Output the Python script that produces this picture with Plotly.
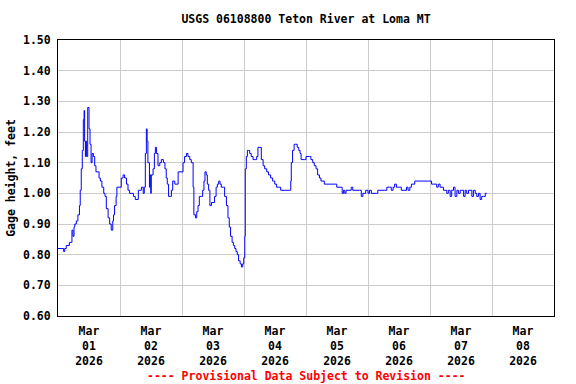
import pandas as pd
import plotly.graph_objects as go

start_date = "2026-03-01"
hours = [0.0, 1.5, 2.2, 2.6, 3.2, 4.4, 5.2, 5.4, 5.8, 6.2, 6.5, 7.1, 7.7, 8.3, 8.6, 9.0, 9.4, 9.8,
         10.1, 10.3, 10.6, 10.8, 11.1, 11.5, 12.0, 12.4, 12.8, 13.2, 13.7, 14.2, 14.7, 15.5, 15.9,
         16.4, 17.0, 17.7, 18.2, 18.7, 19.4, 20.0, 20.6, 21.2, 21.5, 21.9, 22.5, 22.8, 24.0, 24.5,
         25.2, 25.8, 26.5, 27.1, 27.7, 28.6, 29.2, 29.9, 30.6, 31.1, 31.7, 32.3, 33.0, 33.4, 33.8,
         34.2, 34.5, 34.8, 35.4, 35.6, 35.9, 36.1, 36.8, 37.3, 37.7, 38.1, 38.7, 39.4, 40.0, 40.8,
         41.4, 41.9, 42.3, 42.8, 43.5, 43.9, 44.4, 45.2, 45.7, 46.5, 48.0, 48.4, 49.0, 49.7, 50.3,
         51.0, 51.6, 52.3, 52.6, 53.2, 53.7, 54.2, 54.7, 55.5, 56.0, 56.5, 56.9, 57.4, 57.8, 58.3,
         58.8, 59.4, 60.0, 60.6, 61.2, 61.7, 62.2, 62.7, 63.2, 64.0, 64.5, 65.2, 65.8, 66.3, 66.8,
         67.4, 67.9, 68.4, 68.9, 69.4, 69.9, 70.5, 71.0, 71.5, 71.9, 72.3, 72.5, 72.9, 73.3, 73.8,
         74.2, 74.8, 75.5, 76.4, 76.9, 77.4, 78.1, 78.7, 79.4, 80.0, 80.8, 81.5, 82.3, 83.1, 83.9,
         84.6, 85.4, 86.2, 89.5, 90.1, 90.3, 90.8, 91.4, 92.0, 92.6, 93.2, 93.7, 94.1, 95.4, 96.0,
         97.3, 97.9, 98.6, 99.2, 99.9, 100.5, 101.2, 101.8, 103.1, 107.4, 107.9, 109.6, 110.0,
         110.5, 111.0, 111.5, 113.5, 114.1, 116.7, 117.4, 118.0, 119.1, 120.0, 120.6, 121.3, 123.2,
         123.8, 126.4, 127.3, 128.4, 129.0, 129.7, 130.3, 131.0, 132.3, 132.9, 134.9, 135.5, 136.2,
         136.8, 138.1, 143.3, 144.6, 145.3, 146.6, 147.2, 147.9, 149.2, 150.5, 151.1, 151.8, 152.4,
         153.1, 153.7, 154.4, 155.0, 155.7, 156.3, 157.0, 157.6, 158.2, 158.9, 159.5, 160.2, 160.8,
         161.5, 162.1, 162.8, 163.4, 164.0, 164.7, 165.4, 166.0]
gage_ft = [0.82, 0.82, 0.81, 0.82, 0.83, 0.84, 0.84, 0.88, 0.86, 0.89, 0.90, 0.91, 0.93, 0.96, 1.01,
           1.08, 1.14, 1.24, 1.27, 1.17, 1.12, 1.17, 1.12, 1.28, 1.21, 1.16, 1.10, 1.13, 1.12, 1.09,
           1.07, 1.07, 1.05, 1.04, 1.02, 1.00, 0.99, 0.95, 0.92, 0.90, 0.88, 0.91, 0.93, 0.96, 0.99,
           1.02, 1.02, 1.05, 1.06, 1.05, 1.03, 1.01, 1.00, 1.00, 0.99, 0.98, 0.98, 1.01, 1.01, 1.02,
           1.00, 1.02, 1.13, 1.21, 1.17, 1.10, 1.02, 1.06, 1.00, 1.06, 1.08, 1.13, 1.15, 1.13, 1.09,
           1.10, 1.11, 1.10, 1.08, 1.05, 1.03, 0.99, 0.99, 1.01, 1.04, 1.03, 1.03, 1.07, 1.07, 1.10,
           1.12, 1.13, 1.12, 1.11, 1.10, 1.02, 0.93, 0.92, 0.94, 0.96, 0.99, 0.99, 1.01, 1.04, 1.07,
           1.06, 1.03, 1.01, 0.96, 0.97, 0.97, 0.99, 1.02, 1.03, 1.04, 1.03, 1.02, 1.02, 0.99, 0.96,
           0.92, 0.89, 0.86, 0.84, 0.83, 0.82, 0.81, 0.80, 0.78, 0.77, 0.76, 0.77, 0.79, 0.86, 1.08,
           1.12, 1.14, 1.14, 1.13, 1.12, 1.11, 1.11, 1.12, 1.15, 1.15, 1.11, 1.09, 1.08, 1.07, 1.06,
           1.05, 1.04, 1.03, 1.02, 1.02, 1.01, 1.01, 1.04, 1.10, 1.14, 1.16, 1.16, 1.15, 1.14, 1.13,
           1.11, 1.11, 1.12, 1.12, 1.11, 1.10, 1.09, 1.08, 1.06, 1.05, 1.04, 1.03, 1.03, 1.02, 1.02,
           1.00, 1.01, 1.00, 1.01, 1.02, 1.01, 1.01, 0.99, 1.00, 1.01, 1.00, 1.01, 1.00, 1.00, 1.01,
           1.01, 1.02, 1.02, 1.01, 1.02, 1.03, 1.02, 1.02, 1.01, 1.02, 1.01, 1.02, 1.03, 1.04, 1.04,
           1.03, 1.03, 1.02, 1.03, 1.02, 1.01, 1.00, 1.01, 0.99, 1.01, 1.02, 0.99, 1.01, 1.00, 1.01,
           1.01, 0.99, 1.01, 1.00, 1.01, 1.01, 0.99, 1.01, 1.00, 0.99, 1.00, 0.98, 0.99, 0.99, 1.00,
           1.00]

title_text = "USGS 06108800 Teton River at Loma MT"
y_title = "Gage height, feet"
footer_text = "---- Provisional Data Subject to Revision ----"
x_range = ["2026-03-01 00:00", "2026-03-09 00:00"]
y_range = [0.60, 1.50]

times = pd.Timestamp(start_date) + pd.to_timedelta(hours, unit="h")

FONT = "DejaVu Sans Mono"
FS = 11.5

fig = go.Figure()
fig.add_trace(go.Scatter(x=times, y=gage_ft, mode="lines", line=dict(color="#0000ff", width=1, shape="hv"),
                         showlegend=False, hoverinfo="x+y"))

fig.update_layout(
    width=576, height=384,
    margin=dict(l=58, r=22, t=40, b=68, autoexpand=False),
    paper_bgcolor="white", plot_bgcolor="white",
    font=dict(family=FONT, size=FS, color="black", weight="bold"),
    title=dict(text=title_text, x=0.5, xref="paper", xanchor="center", y=(384 - 19) / 384, yanchor="middle",
               font=dict(family=FONT, size=FS, color="black", weight="bold")),
    xaxis=dict(type="date", range=x_range, tick0=x_range[0], dtick=86400000, tickformat="%b<br>%d<br>%Y",
               ticklabelmode="period", showgrid=True, gridcolor="#cccccc", gridwidth=1,
               showline=True, linecolor="black", linewidth=1, mirror=True, ticks="", zeroline=False,
               ticklabelstandoff=4, fixedrange=True, automargin=False,
               tickfont=dict(family=FONT, size=FS, weight="bold")),
    yaxis=dict(range=y_range, dtick=0.1, tick0=0.6, tickformat=".2f", showgrid=True, gridcolor="#cccccc",
               gridwidth=1, showline=True, linecolor="black", linewidth=1, mirror=True, ticks="",
               zeroline=False, ticklabelstandoff=4, automargin=False,
               tickfont=dict(family=FONT, size=FS, weight="bold"),
               title=dict(text=y_title, standoff=4, font=dict(family=FONT, size=FS, weight="bold"))),
    annotations=[dict(text=footer_text, xref="paper", yref="paper", x=0.5, y=0, xanchor="center",
                      yanchor="middle", yshift=-60, showarrow=False,
                      font=dict(family=FONT, size=FS, color="red", weight="bold"))],
)

fig.write_html("out.html", config={"displayModeBar": False},
               post_script="document.body.style.margin='0';document.body.style.overflow='hidden';")
